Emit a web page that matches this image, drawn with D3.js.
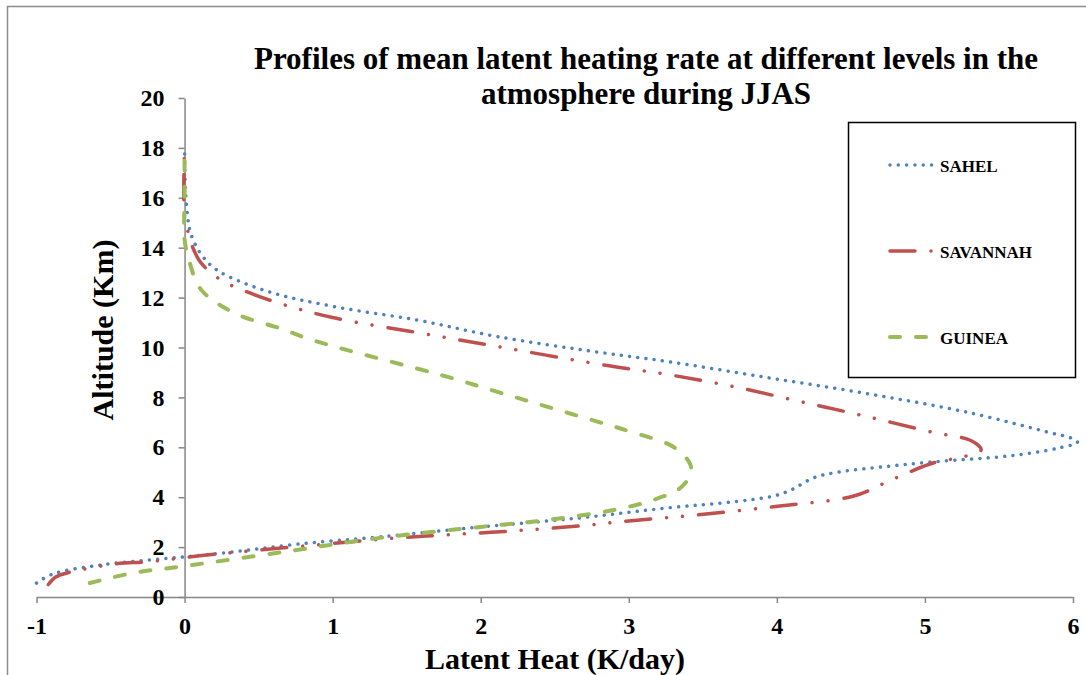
<!DOCTYPE html>
<html>
<head>
<meta charset="utf-8">
<script src="https://cdn.jsdelivr.net/npm/d3@7"></script>
<style>
  body { margin: 0; background: #fff; }
  svg { display: block; font-family: "Liberation Serif", "Times New Roman", serif; font-weight: bold; }
</style>
</head>
<body>
<svg id="chart" width="1086" height="675"></svg>
<script>
// Latent heating profiles (K/day vs altitude km) from bottom to top
const sahelHeat = [-1.0, -0.89, -0.57, -0.23, 0, 0.33, 0.78, 1.32, 2.0, 2.67, 3.26, 3.71, 3.98, 4.1, 4.25, 4.43, 4.72, 5.06, 5.51, 5.73, 5.91, 6.03, 5.98, 5.87, 5.29, 4.61, 3.93, 3.26, 2.81, 2.11, 1.57, 1.0, 0.56, 0.22, 0.11, 0.04, 0.02, 0.005, 0];
const sahelAlt  = [0.56, 0.92, 1.28, 1.49, 1.61, 1.81, 2.13, 2.41, 2.81, 3.17, 3.57, 3.82, 4.05, 4.3, 4.78, 5.02, 5.22, 5.42, 5.62, 5.78, 5.98, 6.2, 6.39, 6.55, 7.4, 8.15, 8.8, 9.44, 9.8, 10.44, 11.1, 11.65, 12.25, 13.1, 13.75, 14.6, 15.3, 16.5, 18];

const savannahHeat = [-0.92, -0.87, -0.79, -0.46, -0.25, 0.1, 0.67, 1.44, 1.77, 2.22, 2.67, 3.0, 3.46, 4.02, 4.52, 4.79, 5.06, 5.26, 5.38, 5.31, 5.06, 4.61, 4.16, 3.71, 3.26, 2.81, 2.11, 1.57, 1.0, 0.56, 0.24, 0.11, 0.06, 0.03, 0.0, 0];
const savannahAlt  = [0.5, 0.8, 0.97, 1.33, 1.41, 1.65, 1.97, 2.37, 2.49, 2.65, 2.85, 3.05, 3.29, 3.65, 4.05, 4.74, 5.38, 5.62, 5.9, 6.27, 6.59, 7.23, 7.83, 8.43, 8.92, 9.32, 10.04, 10.6, 11.2, 11.93, 12.73, 13.4, 13.94, 14.5, 15.26, 18];

const guineaHeat = [-0.64, -0.35, 0, 0.67, 1.32, 2.0, 2.45, 2.9, 3.17, 3.35, 3.42, 3.41, 3.3, 3.01, 2.81, 2.47, 2.13, 1.79, 0.85, 0.67, 0.33, 0.11, 0.03, 0.0, 0, 0];
const guineaAlt  = [0.56, 0.96, 1.24, 1.81, 2.37, 2.81, 3.09, 3.49, 3.9, 4.38, 4.98, 5.38, 6.02, 6.63, 6.99, 7.59, 8.19, 8.8, 10.32, 10.72, 11.4, 12.33, 13.5, 14.34, 16, 17.9];

const seriesNames = ["SAHEL", "SAVANNAH", "GUINEA"];
const xTicks = [-1, 0, 1, 2, 3, 4, 5, 6];
const yTicks = [0, 2, 4, 6, 8, 10, 12, 14, 16, 18, 20];

const titleLines = ["Profiles of mean latent heating rate at different levels in the", "atmosphere during JJAS"];
const xTitle = "Latent Heat (K/day)";
const yTitle = "Altitude (Km)";

const styles = {
    SAHEL:    { color: "#4f81bd", width: 3.5, dash: "0.01,8.3" },
    SAVANNAH: { color: "#c0504d", width: 3.5, dash: "25,16,0.01,16,0.01,16" },
    GUINEA:   { color: "#9bbb59", width: 4,   dash: "10,16" }
};

const serif = "Liberation Serif, Times New Roman, serif";
const svg = d3.select("#chart");

// outer chart frame (right/bottom edges fall outside the picture)
svg.append("rect")
    .attr("x", 7.5).attr("y", 6.5)
    .attr("width", 1200).attr("height", 800)
    .attr("fill", "none")
    .attr("stroke", "#8c8c8c")
    .attr("stroke-width", 1.5);

const x = d3.scaleLinear().domain([-1, 6]).range([36.5, 1073]);
const y = d3.scaleLinear().domain([0, 20]).range([597, 98]);

// title
svg.append("text")
    .attr("text-anchor", "middle")
    .attr("font-size", "31px")
    .selectAll("tspan")
    .data(titleLines)
    .join("tspan")
    .attr("x", 646)
    .attr("y", (d, i) => 69 + i * 35)
    .text(d => d);

// x axis (crosses at altitude 0)
const xAxis = svg.append("g")
    .attr("transform", `translate(0,${y(0)})`)
    .call(d3.axisBottom(x).tickValues(xTicks).tickSize(6).tickSizeOuter(0));
xAxis.select(".domain").attr("stroke", "#868686").attr("stroke-width", 1.5);
xAxis.selectAll(".tick line").attr("stroke", "#868686").attr("stroke-width", 1.5);
xAxis.selectAll(".tick text")
    .attr("y", 20)
    .attr("dy", "0.71em")
    .attr("fill", "#000")
    .attr("font-family", serif)
    .attr("font-weight", "bold")
    .attr("font-size", "24px")
    .text(d => d < 0 ? "-" + Math.abs(d) : d);

// y axis (crosses at heat 0)
const yAxis = svg.append("g")
    .attr("transform", `translate(${x(0)},0)`)
    .call(d3.axisLeft(y).tickValues(yTicks).tickSize(6).tickSizeOuter(0));
yAxis.select(".domain").attr("stroke", "#868686").attr("stroke-width", 1.5);
yAxis.selectAll(".tick line").attr("stroke", "#868686").attr("stroke-width", 1.5);
yAxis.selectAll(".tick text")
    .attr("x", -20)
    .attr("fill", "#000")
    .attr("font-family", serif)
    .attr("font-weight", "bold")
    .attr("font-size", "24px");

// axis titles
svg.append("text")
    .attr("x", 555).attr("y", 669)
    .attr("text-anchor", "middle")
    .attr("font-size", "30px")
    .text(xTitle);

svg.append("text")
    .attr("transform", "translate(113,330) rotate(-90)")
    .attr("text-anchor", "middle")
    .attr("font-size", "30px")
    .text(yTitle);

// profiles
const line = d3.line()
    .x(d => x(d[0]))
    .y(d => y(d[1]))
    .curve(d3.curveCatmullRom.alpha(0.5));

const profiles = [
    { name: "SAHEL", pts: d3.zip(sahelHeat, sahelAlt) },
    { name: "SAVANNAH", pts: d3.zip(savannahHeat, savannahAlt) },
    { name: "GUINEA", pts: d3.zip(guineaHeat, guineaAlt) }
];

svg.append("g")
    .selectAll("path")
    .data(profiles)
    .join("path")
    .attr("d", d => line(d.pts))
    .attr("fill", "none")
    .attr("stroke", d => styles[d.name].color)
    .attr("stroke-width", d => styles[d.name].width)
    .attr("stroke-dasharray", d => styles[d.name].dash)
    .attr("stroke-linecap", "round");

// legend
const legend = svg.append("g");
legend.append("rect")
    .attr("x", 848.5).attr("y", 122.5)
    .attr("width", 227).attr("height", 255)
    .attr("fill", "#fff")
    .attr("stroke", "#000")
    .attr("stroke-width", 1.5);

const entry = legend.selectAll("g.entry")
    .data(seriesNames)
    .join("g")
    .attr("class", "entry")
    .attr("transform", (d, i) => `translate(890,${165 + i * 86})`);

entry.append("line")
    .attr("x1", 0).attr("x2", 42)
    .attr("stroke", d => styles[d].color)
    .attr("stroke-width", d => styles[d].width)
    .attr("stroke-dasharray", d => styles[d].dash)
    .attr("stroke-linecap", "round");

entry.append("text")
    .attr("x", 50)
    .attr("y", 7)
    .attr("font-size", "17px")
    .text(d => d);
</script>
</body>
</html>
